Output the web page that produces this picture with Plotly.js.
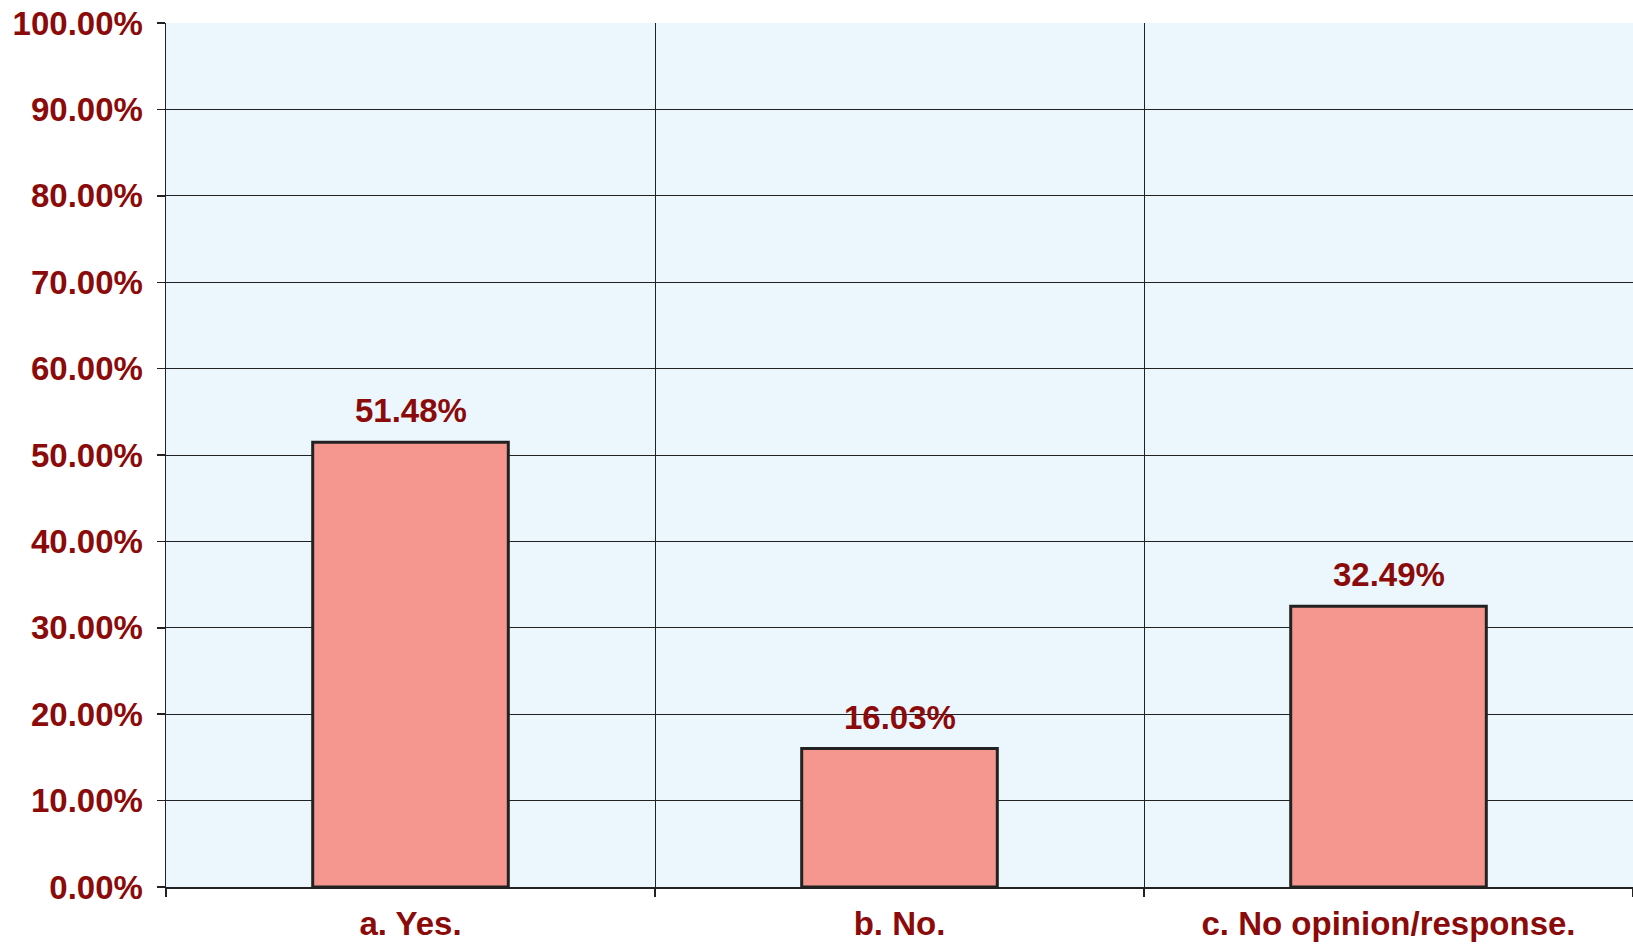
<!DOCTYPE html>
<html>
<head>
<meta charset="utf-8">
<script src="https://cdn.plot.ly/plotly-3.0.1.min.js"></script>
<style>html,body{margin:0;padding:0;background:#fff;}#chart{width:1633px;height:945px;}</style>
</head>
<body>
<div id="chart"></div>
<script>
const categories = ["a. Yes.", "b. No.", "c. No opinion/response."];
const shares = [0.5148, 0.1603, 0.3249];
const shareLabels = ["51.48%", "16.03%", "32.49%"];
const yTickValues = [0, 0.1, 0.2, 0.3, 0.4, 0.5, 0.6, 0.7, 0.8, 0.9, 1.0];
const yTickLabels = ["0.00%", "10.00%", "20.00%", "30.00%", "40.00%", "50.00%", "60.00%", "70.00%", "80.00%", "90.00%", "100.00%"];

const red = "#8B0A0A";
const fontFamily = "Liberation Sans, Arial, sans-serif";

const trace = {
  type: "bar",
  x: categories,
  y: shares,
  marker: { color: "#F5978F", line: { color: "#222222", width: 3 } },
  hoverinfo: "none"
};

const annotations = categories.map((c, i) => ({
  x: c, y: shares[i], xref: "x", yref: "y",
  text: "<b>" + shareLabels[i] + "</b>",
  showarrow: false, yanchor: "bottom", yshift: 11,
  font: { family: fontFamily, size: 33, color: red }
}));

const layout = {
  width: 1633, height: 945,
  margin: { l: 166, r: 0, t: 23, b: 58 },
  paper_bgcolor: "#ffffff",
  plot_bgcolor: "#EBF6FD",
  bargap: 0.6,
  showlegend: false,
  annotations: annotations,
  xaxis: {
    type: "category",
    tickson: "boundaries",
    ticks: "outside", ticklen: 8, tickcolor: "#222222", tickwidth: 1.5,
    showgrid: true, gridcolor: "#222222", gridwidth: 1,
    showline: true, linecolor: "#222222", linewidth: 1.5,
    tickfont: { family: fontFamily, size: 33, color: red, weight: "bold" },
    ticklabelstandoff: 7
  },
  yaxis: {
    range: [0, 1.0001],
    tickvals: yTickValues, ticktext: yTickLabels,
    ticks: "outside", ticklen: 8, tickcolor: "#222222", tickwidth: 1.5,
    showgrid: true, gridcolor: "#222222", gridwidth: 1,
    showline: true, linecolor: "#222222", linewidth: 1.5,
    zeroline: false,
    tickfont: { family: fontFamily, size: 33, color: red, weight: "bold" },
    ticklabelstandoff: 7
  }
};

Plotly.newPlot("chart", [trace], layout, { staticPlot: true, displayModeBar: false });
</script>
</body>
</html>
